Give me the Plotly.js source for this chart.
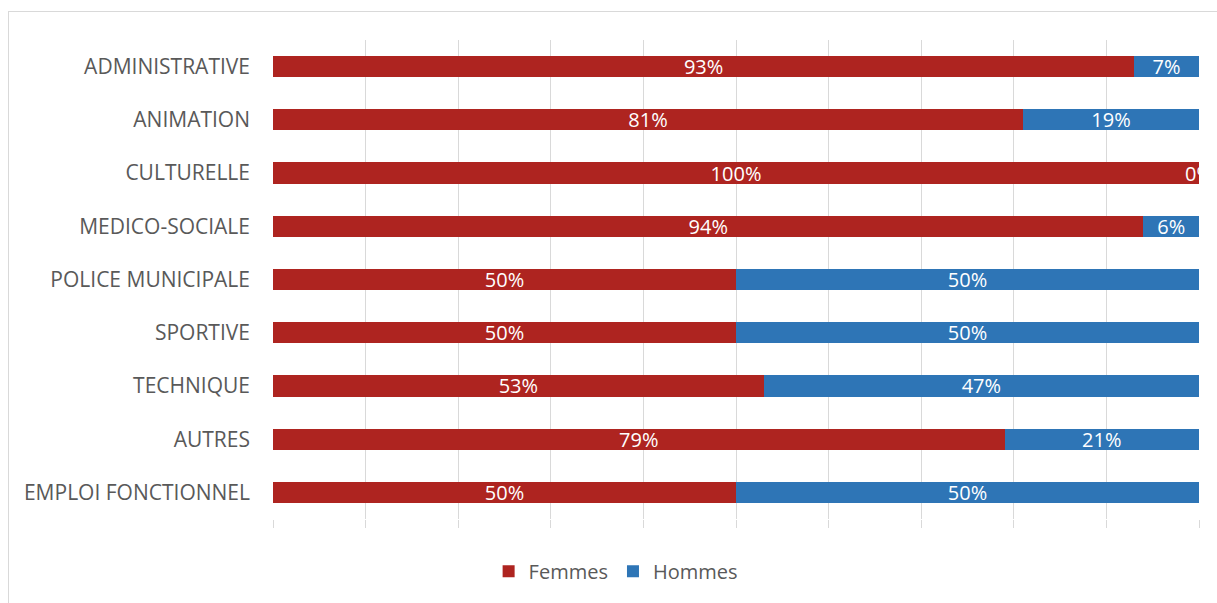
<!DOCTYPE html>
<html><head><meta charset="utf-8">
<script src="https://cdn.plot.ly/plotly-3.0.1.min.js"></script>
<style>
html,body{margin:0;padding:0;background:#fff;overflow:hidden;}
#frame{position:absolute;left:8px;top:11px;width:1400px;height:800px;border:1px solid #d9d9d9;box-sizing:border-box;}
#chart{position:absolute;left:0;top:0;width:1217px;height:603px;}
</style></head>
<body>
<div id="frame"></div>
<div id="chart"></div>
<script>
const categories = ["ADMINISTRATIVE","ANIMATION","CULTURELLE","MEDICO-SOCIALE","POLICE MUNICIPALE","SPORTIVE","TECHNIQUE","AUTRES","EMPLOI FONCTIONNEL"];
const femmes = [93,81,100,94,50,50,53,79,50];
const hommes = [7,19,0,6,50,50,47,21,50];
const seriesNames = ["Femmes","Hommes"];
const colors = ["#AE2420","#2E75B6"];

const font = "Open Sans, Liberation Sans, sans-serif";
function mk(vals, i){
  return {
    type:"bar", orientation:"h", name:seriesNames[i],
    y:categories, x:vals.map(v=>v/100),
    text:vals.map(v=>v>0? v+"%":""),
    textposition:"inside", insidetextanchor:"middle",
    textfont:{color:"#fff", size:20, family:font},
    constraintext:"none",
    marker:{color:colors[i]},
    hoverinfo:"skip"
  };
}
// zero-valued segments still show their label at the bar end, as in the original
const annotations = [];
hommes.forEach((v,k)=>{ if(v===0){ annotations.push({x:femmes[k]/100, y:categories[k], xref:"x", yref:"y", text:v+"%", showarrow:false, xanchor:"center", font:{color:"#fff", size:20, family:font}}); }});

const layout = {
  width:1217, height:603,
  margin:{l:273, r:18, t:40, b:84},
  barmode:"stack", bargap:0.6,
  paper_bgcolor:"rgba(0,0,0,0)", plot_bgcolor:"rgba(0,0,0,0)",
  font:{family:font, color:"#595959", size:20},
  xaxis:{range:[0,1], dtick:0.1, tick0:0, showticklabels:false, showgrid:true, gridcolor:"#d9d9d9", gridwidth:1,
         ticks:"outside", ticklen:8, tickcolor:"#d9d9d9", zeroline:false, showline:false, fixedrange:true},
  yaxis:{autorange:"reversed", showgrid:false, zeroline:false, showline:false, ticks:"", ticklabelstandoff:22,
         tickfont:{size:21, color:"#595959", family:font}, fixedrange:true},
  showlegend:true,
  legend:{orientation:"h", x:0.37, xanchor:"center", y:-0.109, yanchor:"middle", font:{size:20, color:"#595959", family:font}, traceorder:"normal"},
  annotations:annotations
};
Plotly.newPlot("chart", [mk(femmes,0), mk(hommes,1)], layout, {displayModeBar:false, staticPlot:true});
</script>
</body></html>
